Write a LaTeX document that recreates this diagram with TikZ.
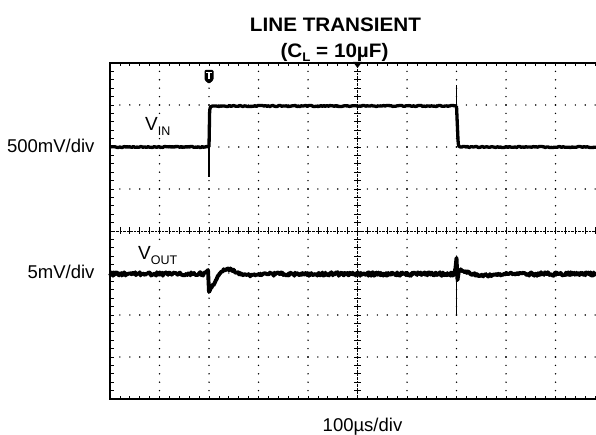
\documentclass[tikz,border=0pt]{standalone}
\usepackage{fontspec}
\setmainfont{Liberation Sans}
\newfontfamily\titlefont[FakeStretch=1.06]{Liberation Sans}
\usetikzlibrary{positioning}
\tikzset{
  trace/.style={line width=3.3pt, line join=round},
  noisy trace/.style={line width=3.9pt, line join=round},
  spike/.style={line width=1.6pt},
  scale label/.style={anchor=base east, font=\fontsize{18.5}{20}\selectfont},
  sig label/.style={anchor=base west, fill=white, inner sep=1pt,
                    font=\fontsize{19}{20}\selectfont},
  title text/.style={anchor=base, font=\titlefont\bfseries\fontsize{19.5}{22}\selectfont},
}
\newcommand{\sigsub}[1]{\raisebox{-4.5pt}{\fontsize{12.5}{13}\selectfont #1}}

\begin{document}
\begin{tikzpicture}[x=1pt,y=-1pt]
  \useasboundingbox (0,0) rectangle (596,435);
  \clip (0,0) rectangle (596,435);
  \pgfmathsetseed{11}
  \coordinate (tl) at (110,63);
  \coordinate (br) at (605,399);
  \coordinate (mid) at (357.5,231);

  % dotted grid
  \foreach \k in {1,2,3,4,6,7,8,9}{
    \foreach \j in {1,...,39}
      \fill (110+49.5*\k, 63+8.4*\j) circle (0.8pt);
  }
  \foreach \k in {1,2,3,5,6,7}{
    \foreach \i in {1,...,49}
      \fill (110+9.9*\i, 63+42*\k) circle (0.8pt);
  }
  \path[draw, densely dotted, thin] (357.5,63) -- (357.5,399);
  \path[draw, densely dotted, thin] (110,231) -- (605,231);
  \foreach \j in {1,...,39}
    \path[draw, thick] (354,63+8.4*\j) -- (361,63+8.4*\j)
                       (110,63+8.4*\j) -- (113.5,63+8.4*\j);
  \foreach \i in {1,...,49}
    \path[draw, thick] (110+9.9*\i,227.5) -- (110+9.9*\i,234.5)
                       (110+9.9*\i,63) -- (110+9.9*\i,66.5)
                       (110+9.9*\i,399) -- (110+9.9*\i,395.5);
  \path[draw, line width=2.6pt] (tl) rectangle (br);

  % markers
  \fill (353,62) -- (362,62) -- (357.5,68) -- cycle;
  \fill[rounded corners=1.2pt] (204.5,70) -- (213.5,70) -- (213.5,80) -- (209,84)
        -- (204.5,80) -- cycle;
  \path[draw, white, line width=1.1pt] (206.3,72.8) -- (211.7,72.8)
        (209,72.8) -- (209,79.5);

  % labels on the screen
  \node[sig label] (vin) at (144,131) {V\sigsub{IN}};
  \node[sig label] (vout) at (137,260) {V\sigsub{OUT}};

  % V_IN
  \path[draw, trace] plot[domain=110:207, samples=80] (\x,{147+0.6*rand})
        -- (209,147);
  \path[draw, spike] (209,145) -- (209,177);
  \path[draw, trace] (209,147) -- (209.6,113) .. controls (210,106) .. (215,106)
        -- plot[domain=216:454, samples=160] (\x,{106+0.6*rand}) -- (456,106);
  \path[draw, spike] (456.5,85) -- (456.5,112);
  \path[draw, trace] (456.5,106) -- (458,140) .. controls (458.5,147) .. (462,147)
        -- plot[domain=463:596, samples=90] (\x,{147+0.6*rand});

  % V_OUT
  \path[draw, noisy trace] plot[domain=110:206, samples=130] (\x,{274+1.8*rand})
        -- (208,270) -- (209,292)
        -- plot[domain=1:60, samples=70] ({209+\x},{274+17*exp(-\x/16)*cos(8.5*\x)+1.2*rand})
        -- plot[domain=270:454, samples=250] (\x,{274+1.8*rand})
        -- (455.5,268) -- (456.5,258) -- (457.5,280)
        -- plot[domain=1:70, samples=80] ({458+\x},{274-4*exp(-\x/30)*cos(6*\x)+1.2*rand})
        -- plot[domain=529:596, samples=90] (\x,{274+1.8*rand});
  \path[draw, spike] (456.5,256) -- (456.5,316);

  % labels
  \node[title text] (title) at (335.5,31.5) {LINE TRANSIENT};
  \node[title text] (load) at (334.5,57.5) {(C\sigsub{L} = 10µF)};
  \node[scale label] (vinscale) at (98,153) {500mV/div};
  \node[scale label] (voutscale) at (98,279) {5mV/div};
  \node[anchor=base, font=\fontsize{18.5}{20}\selectfont]
       (timescale) at (362.5,431) {100µs/div};
\end{tikzpicture}
\end{document}
